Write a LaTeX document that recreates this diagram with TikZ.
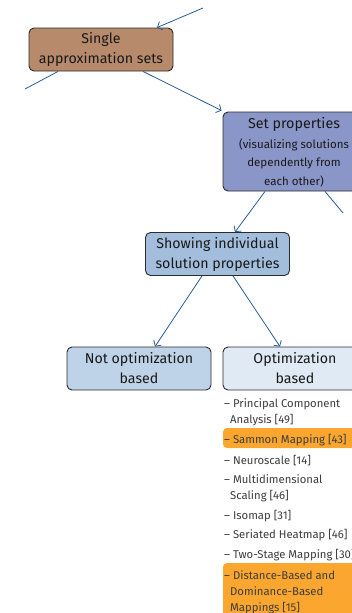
\documentclass[tikz,border=0pt]{standalone}
\usepackage{fontspec}
\setmainfont{Fira Sans}
\usetikzlibrary{arrows.meta}

\definecolor{linkblue}{HTML}{275C95}
\definecolor{boxline}{HTML}{2B2B2B}
\definecolor{fillbrown}{HTML}{B68A6B}
\definecolor{fillviolet}{HTML}{8B96C8}
\definecolor{fillmid}{HTML}{A2BEDC}
\definecolor{filllight}{HTML}{BED3E8}
\definecolor{fillpale}{HTML}{DFEAF4}
\definecolor{markorange}{HTML}{FBA72F}
\definecolor{listgray}{HTML}{3C3C3C}

\tikzset{
  catbox/.style={draw=boxline, line width=0.9pt, rounded corners=5pt,
    minimum width=144pt, minimum height=43pt, inner sep=0pt, align=center,
    text=black!90, font=\fontsize{14.2}{20}\selectfont},
  link/.style={draw=linkblue, line width=0.8pt},
  linkarrow/.style={link, -{Straight Barb[length=4pt,width=9pt]}},
  item/.style={anchor=base west, inner sep=0pt, align=left, text=listgray,
    font=\fontsize{11.3}{16}\selectfont},
  highlight/.style={fill=markorange, rounded corners=4pt}
}

\begin{document}
\begin{tikzpicture}[x=1pt, y=-1pt]
  \useasboundingbox (0,0) rectangle (352,613);
  \clip (0,0) rectangle (352,613);

  % category boxes
  \node[catbox, fill=fillbrown] (single) at (101,49.5) {Single\\approximation sets};
  \node[catbox, fill=fillviolet, minimum height=79pt] (setprop) at (295,151.5) {};
  \node[anchor=base, inner sep=0pt, text=black!90, font=\fontsize{14.3}{18}\selectfont]
    (setproptitle) at (294,128) {Set properties};
  \node[anchor=base, inner sep=0pt, align=center, text=black!90, font=\fontsize{11.5}{18.5}\selectfont]
    (setpropnote) at (294,185) {(visualizing solutions\\dependently from\\each other)};
  \node[catbox, fill=fillmid] (showing) at (217.5,254) {Showing individual\\solution properties};
  \node[catbox, fill=filllight] (notopt) at (139,368.5) {Not optimization\\based};
  \node[catbox, fill=fillpale] (opt) at (295,368.5) {Optimization\\based};

  % connectors
  \coordinate (topin) at (203,8);
  \coordinate (leftout) at (25,89);
  \coordinate (rightout) at (343,213);
  \draw[linkarrow] (topin) -- ([xshift=56pt]single.north);
  \draw[link] ([xshift=-43pt]single.south) -- (leftout);
  \draw[linkarrow] ([xshift=42pt]single.south) -- ([xshift=-1pt,yshift=1pt]setprop.north west);
  \draw[linkarrow] ([xshift=-30pt]setprop.south) -- ([xshift=17.5pt]showing.north);
  \draw[link] ([xshift=30pt]setprop.south) -- (rightout);
  \draw[linkarrow] ([xshift=-15.5pt]showing.south) -- ([xshift=16pt]notopt.north);
  \draw[linkarrow] ([xshift=15.5pt]showing.south) -- ([xshift=-15pt]opt.north);

  % highlighted methods
  \fill[highlight] (223,428) rectangle (365,448);
  \fill[highlight] (223,563) rectangle (365,630);

  % methods list (each node sits on the baseline of its last line)
  \node[item] (pca) at (224,423) {– Principal Component\\\hspace*{6pt}Analysis [49]};
  \node[item] (sammon) at (224,443) {– Sammon Mapping [43]};
  \node[item] (neuro) at (224,464) {– Neuroscale [14]};
  \node[item] (mds) at (224,499) {– Multidimensional\\\hspace*{6pt}Scaling [46]};
  \node[item] (isomap) at (224,519) {– Isomap [31]};
  \node[item] (heatmap) at (224,538.5) {– Seriated Heatmap [46]};
  \node[item] (twostage) at (224,558) {– Two-Stage Mapping [30]};
  \node[item] (dist) at (224,611) {– Distance-Based and\\\hspace*{6pt}Dominance-Based\\\hspace*{6pt}Mappings [15]};
\end{tikzpicture}
\end{document}
